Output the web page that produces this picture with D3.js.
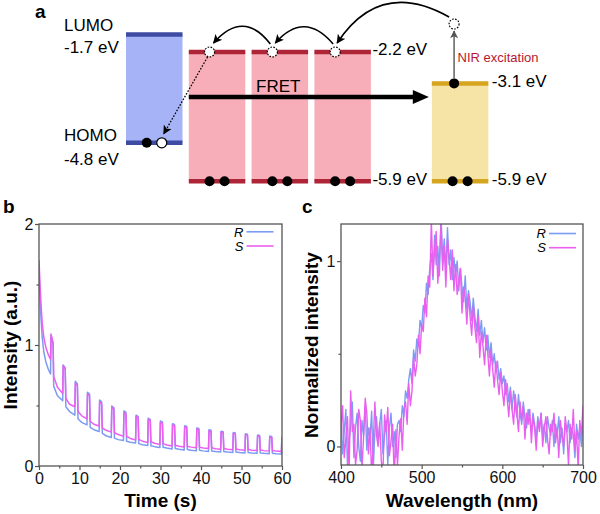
<!DOCTYPE html>
<html>
<head>
<meta charset="utf-8">
<script src="https://cdn.jsdelivr.net/npm/d3@7/dist/d3.min.js"></script>
<style>
  html, body { margin: 0; padding: 0; background: #fff; }
  svg { display: block; font-family: "Liberation Sans", Arial, sans-serif; }
</style>
</head>
<body>
<svg id="fig" width="600" height="514"></svg>
<script>
// ---------- panel a: energy levels (eV) ----------
const levelSlots = [0, 1, 2, 3, 4.87];          // column of each material
const lumoLevels = [-1.7, -2.2, -2.2, -2.2, -3.1];
const homoLevels = [-4.8, -5.9, -5.9, -5.9, -5.9];
const levelKinds = ['donor', 'emitter', 'emitter', 'emitter', 'ucnp'];

// ---------- panel b: intensity vs time ----------
const pulseStart = [2.85, 5.85, 8.85, 11.85, 14.85, 17.85, 20.85, 23.85, 26.85, 29.85,
  32.85, 35.85, 38.85, 41.85, 44.85, 47.85, 50.85, 53.85, 56.85, 59.85];
const sInit = [[0, 1.70], [0.25, 1.50], [0.5, 1.33], [0.8, 1.18], [1.2, 1.06], [1.7, 0.98], [2.3, 0.92]];
const rInit = [[0, 1.64], [0.25, 1.40], [0.5, 1.22], [0.8, 1.06], [1.2, 0.94], [1.7, 0.86], [2.3, 0.80]];
const sBefore = [0.88, 0.60, 0.49, 0.39, 0.33, 0.28, 0.245, 0.215, 0.195, 0.178, 0.166, 0.157, 0.15, 0.144, 0.139, 0.135, 0.131, 0.128, 0.125, 0.12];
const rBefore = [0.76, 0.54, 0.42, 0.34, 0.285, 0.235, 0.21, 0.19, 0.17, 0.152, 0.14, 0.132, 0.125, 0.12, 0.115, 0.111, 0.108, 0.105, 0.102, 0.10];
const sPeak = [1.09, 0.83, 0.685, 0.595, 0.53, 0.485, 0.44, 0.41, 0.385, 0.36, 0.34, 0.322, 0.305, 0.29, 0.28, 0.268, 0.258, 0.248, 0.238, 0.228];
const rPeak = [1.08, 0.835, 0.70, 0.61, 0.545, 0.495, 0.455, 0.42, 0.395, 0.372, 0.35, 0.332, 0.315, 0.30, 0.288, 0.277, 0.267, 0.257, 0.247, 0.237];
const sPeakEnd = [1.02, 0.80, 0.665, 0.58, 0.515, 0.472, 0.43, 0.40, 0.376, 0.352, 0.333, 0.316, 0.30, 0.286, 0.276, 0.265, 0.255, 0.245, 0.235, 0.225];
const rPeakEnd = [1.01, 0.81, 0.68, 0.595, 0.53, 0.483, 0.445, 0.41, 0.386, 0.364, 0.343, 0.326, 0.31, 0.295, 0.284, 0.273, 0.263, 0.253, 0.243, 0.233];
const sAfter = [0.74, 0.56, 0.45, 0.37, 0.315, 0.275, 0.245, 0.22, 0.20, 0.185, 0.172, 0.163, 0.156, 0.15, 0.145, 0.14, 0.136, 0.132, 0.128];
const rAfter = [0.66, 0.49, 0.39, 0.32, 0.27, 0.23, 0.205, 0.185, 0.168, 0.155, 0.145, 0.137, 0.13, 0.124, 0.119, 0.115, 0.111, 0.108, 0.105];
const sMid = [0.65, 0.51, 0.415, 0.345, 0.295, 0.26, 0.228, 0.205, 0.188, 0.174, 0.164, 0.156, 0.149, 0.143, 0.139, 0.135, 0.131, 0.127, 0.123];
const rMid = [0.58, 0.45, 0.36, 0.30, 0.25, 0.218, 0.196, 0.176, 0.16, 0.148, 0.139, 0.131, 0.125, 0.119, 0.115, 0.111, 0.108, 0.105, 0.102];

// ---------- panel c: normalized emission, 400-700 nm every 2 nm ----------
const wavelengths = d3.range(400, 701, 2);
const rSpectrum = [
  0.16, -0.04, 0.08, 0.2, -0.1, 0.02, 0.12, 0.24, -0.06, 0.1, 0.18, 0.0, -0.08, 0.14, 0.06, 0.22, -0.02, 0.1,
  0.04, 0.19, -0.12, 0.08, 0.16, 0.02, 0.12, 0.2, -0.04, 0.06, 0.14, -0.1, 0.1, 0.18, 0.0, 0.08, -0.06, 0.12,
  0.14, 0.08, 0.22, 0.16, 0.3, 0.26, 0.36, 0.42, 0.34, 0.52, 0.46, 0.58, 0.54, 0.68, 0.64, 0.76, 0.72, 0.88, 0.82, 0.96,
  1.04, 0.9, 1.14, 0.98, 1.08, 0.92, 1.25, 1.0, 1.12, 0.94, 1.18, 0.98, 1.06, 0.9, 1.02,
  0.92, 1.0, 0.84, 0.96, 0.86, 0.78, 0.92, 0.74, 0.84, 0.78, 0.68, 0.8, 0.7, 0.62, 0.74,
  0.6, 0.68, 0.56, 0.64, 0.52, 0.6, 0.48, 0.56, 0.44, 0.5, 0.4, 0.46, 0.36, 0.42, 0.34,
  0.38, 0.28, 0.34, 0.24, 0.32, 0.2, 0.3, 0.22, 0.16, 0.28, 0.18, 0.12, 0.24, 0.16, 0.1, 0.2, 0.14, 0.08, 0.18, 0.12,
  0.04, 0.16, 0.1, 0.18, 0.06, 0.12, 0.02, 0.16, 0.1, 0.06, 0.14, 0.0, 0.12, 0.06, 0.16, 0.02, 0.1, -0.04, 0.12, 0.08,
  0.14, 0.02, 0.1, 0.06, -0.06, 0.12, 0.04, 0.1, 0.0, 0.14
];
const sSpectrum = [
  0.1, 0.22, -0.06, 0.04, 0.16, -0.14, 0.3, 0.08, 0.12, -0.1, -0.02, 0.2, 0.14, -0.12, 0.05, 0.26, 0.18, -0.04,
  0.1, -0.16, 0.02, 0.24, 0.06, 0.0, 0.13, -0.08, -0.14, 0.17, 0.08, 0.21, -0.05, 0.03, 0.12, -0.18, 0.09, -0.1,
  0.06, 0.15, -0.02, 0.2, 0.24, 0.12, 0.34, 0.22, 0.3, 0.48, 0.38, 0.44, 0.6, 0.5, 0.66, 0.62, 0.8, 0.7, 0.92, 0.86,
  1.22, 0.92, 1.06, 1.16, 0.88, 1.0, 1.2, 0.95, 1.08, 0.86, 1.12, 1.02, 0.9, 1.06, 0.84,
  0.98, 0.82, 0.9, 0.96, 0.72, 0.86, 0.8, 0.66, 0.82, 0.7, 0.6, 0.76, 0.64, 0.56, 0.7,
  0.48, 0.62, 0.54, 0.44, 0.6, 0.5, 0.38, 0.52, 0.42, 0.32, 0.46, 0.36, 0.28, 0.4, 0.3,
  0.22, 0.36, 0.26, 0.16, 0.3, 0.2, 0.12, 0.28, 0.18, 0.08, 0.24, 0.14, 0.22, 0.04, 0.18, 0.12, 0.2, 0.02, 0.16, 0.1,
  -0.02, 0.14, 0.08, 0.18, 0.0, 0.1, 0.16, 0.04, -0.04, 0.12, 0.08, 0.18, 0.02, 0.1, -0.06, 0.14, 0.06, 0.0, 0.16, 0.08,
  -0.1, 0.12, 0.04, 0.2, -0.02, 0.08, -0.12, 0.14, 0.06, 0.22
];

const seriesNames = ['R', 'S'];
const seriesColors = { R: '#7d9bf3', S: '#ea5ff0' };

const svg = d3.select('#fig');
const defs = svg.append('defs');

function addHead(id, color, w, h) {
    defs.append('marker')
        .attr('id', id)
        .attr('viewBox', '0 0 10 10')
        .attr('refX', 9).attr('refY', 5)
        .attr('markerUnits', 'userSpaceOnUse')
        .attr('markerWidth', w).attr('markerHeight', h)
        .attr('orient', 'auto')
        .append('path')
        .attr('d', 'M0,0 L10,5 L0,10 L2.5,5 Z')
        .attr('fill', color);
}
addHead('headK', '#000', 10, 9);
addHead('headG', '#555', 8, 8);

/* ===================== panel a ===================== */
const kindStyle = {
    donor:   { fill: '#a6b3f6', line: '#3d4ba3' },
    emitter: { fill: '#f8aeb9', line: '#ae2538' },
    ucnp:    { fill: '#f6e4a6', line: '#d6a520' }
};
const eY = d3.scaleLinear().domain([-1.7, -5.9]).range([34.5, 181.2]);
const slotX = d3.scaleLinear().domain([0, 1]).range([126, 188.8]);
const boxW = 56.5;
const levels = levelSlots.map((s, i) => ({
    x: slotX(s), lumo: lumoLevels[i], homo: homoLevels[i], kind: levelKinds[i]
}));

const ga = svg.append('g');
ga.append('text').attr('x', 35).attr('y', 18).attr('font-size', 19).attr('font-weight', 700).text('a');

levels.forEach(d => {
    const st = kindStyle[d.kind];
    ga.append('rect')
        .attr('x', d.x).attr('y', eY(d.lumo))
        .attr('width', boxW).attr('height', eY(d.homo) - eY(d.lumo))
        .attr('fill', st.fill);
    [d.lumo, d.homo].forEach(e => {
        ga.append('line')
            .attr('x1', d.x).attr('x2', d.x + boxW)
            .attr('y1', eY(e)).attr('y2', eY(e))
            .attr('stroke', st.line).attr('stroke-width', 4.5);
    });
});

// level labels
const donor = levels[0];
const lab = (x, y, t, anchor) => ga.append('text').attr('x', x).attr('y', y)
    .attr('font-size', 17).attr('text-anchor', anchor || 'start').text(t);
lab(64, eY(donor.lumo) - 3.5, 'LUMO');
lab(64, eY(donor.lumo) + 18, '-1.7 eV');
lab(64, eY(donor.homo) - 1.3, 'HOMO');
lab(64, eY(donor.homo) + 22, '-4.8 eV');
const em3 = levels[3], uc = levels[4];
lab(em3.x + boxW + 1.5, eY(em3.lumo) + 3.5, '-2.2 eV');
lab(em3.x + boxW + 1.5, eY(em3.homo) + 3.5, '-5.9 eV');
lab(uc.x + boxW + 3.5, eY(uc.lumo) + 3.5, '-3.1 eV');
lab(uc.x + boxW + 3.5, eY(uc.homo) + 3.5, '-5.9 eV');

// FRET arrow
const fretY = 97;
const fretX1 = levels[1].x, fretTip = uc.x - 3;
ga.append('line')
    .attr('x1', fretX1).attr('x2', fretTip - 14)
    .attr('y1', fretY).attr('y2', fretY)
    .attr('stroke', '#000').attr('stroke-width', 4.5);
ga.append('path')
    .attr('d', `M${fretTip - 16},${fretY - 7} L${fretTip},${fretY} L${fretTip - 16},${fretY + 7} Z`)
    .attr('fill', '#000');
lab(256, 91.5, 'FRET');

// electrons
const elecR = 5;
function electron(x, y, kind) {
    const c = ga.append('circle').attr('cx', x).attr('cy', y).attr('r', elecR);
    if (kind === 'full') c.attr('fill', '#000');
    else if (kind === 'hole') c.attr('fill', '#fff').attr('stroke', '#000').attr('stroke-width', 1.2);
    else c.attr('fill', '#fff').attr('stroke', '#000').attr('stroke-width', 1.2).attr('stroke-dasharray', '1.6,1.4');
}
levels.slice(1).forEach(d => {
    const cx = d.x + boxW / 2;
    electron(cx - 7.5, eY(d.homo), 'full');
    electron(cx + 7.5, eY(d.homo), 'full');
});
electron(donor.x + boxW / 2 - 7.5, eY(donor.homo), 'full');
electron(donor.x + boxW / 2 + 7.5, eY(donor.homo), 'hole');

// excited (dashed) electrons on emitter LUMO
const exc = levels.slice(1, 4).map(d => [d.x + boxW / 2 - 7.5, eY(d.lumo)]);
exc.forEach(p => electron(p[0], p[1], 'dash'));

// NIR excitation
const ucx = uc.x + boxW / 2 - 6;
electron(ucx, eY(uc.lumo), 'full');
const nirY = 24;
ga.append('line')
    .attr('x1', ucx).attr('x2', ucx)
    .attr('y1', eY(uc.lumo) - 5).attr('y2', nirY + 7)
    .attr('stroke', '#555').attr('stroke-width', 1.4)
    .attr('marker-end', 'url(#headG)');
electron(ucx, nirY, 'dash');
ga.append('text').attr('x', ucx + 3.5).attr('y', 61.5)
    .attr('font-size', 13).attr('fill', '#b8162e').text('NIR excitation');

// curved hops
function hop(x1, y1, x2, y2, cx, cy) {
    ga.append('path')
        .attr('d', `M${x1},${y1} Q${cx},${cy} ${x2},${y2}`)
        .attr('fill', 'none').attr('stroke', '#000').attr('stroke-width', 1.6)
        .attr('marker-end', 'url(#headK)');
}
hop(ucx - 5, nirY - 7, exc[2][0] + 2, exc[2][1] - 9, 380, -22);
hop(exc[2][0] - 2, exc[2][1] - 8, exc[1][0] + 3, exc[1][1] - 9, exc[2][0] - 31, 10);
hop(exc[1][0] - 2, exc[1][1] - 8, exc[0][0] + 4, exc[0][1] - 9, exc[1][0] - 29, 9);

// dotted back-transfer to donor hole
ga.append('line')
    .attr('x1', exc[0][0] - 2).attr('y1', exc[0][1] + 5)
    .attr('x2', donor.x + boxW / 2 + 9.5).attr('y2', eY(donor.homo) - 9)
    .attr('stroke', '#000').attr('stroke-width', 1.3)
    .attr('stroke-dasharray', '1.6,1.6')
    .attr('marker-end', 'url(#headK)');

/* ===================== shared axis helper ===================== */
function frame(g, x, y, majorX, minorX, majorY, minorY, fmtX) {
    const [x0, x1] = x.range(), [y0, y1] = y.range();
    const styleAxis = sel => {
        sel.select('.domain').remove();
        sel.selectAll('line').attr('stroke', '#555').attr('stroke-width', 1.2);
        sel.selectAll('text').attr('font-size', 16).attr('fill', '#111')
            .attr('font-family', '"Liberation Sans", Arial, sans-serif');
    };
    g.append('g').attr('transform', `translate(0,${y0})`)
        .call(d3.axisBottom(x).tickValues(minorX).tickSize(2.5).tickFormat(''))
        .call(styleAxis);
    g.append('g').attr('transform', `translate(0,${y0})`)
        .call(d3.axisBottom(x).tickValues(majorX).tickSize(4).tickPadding(3).tickFormat(fmtX || d3.format('d')))
        .call(styleAxis);
    g.append('g').attr('transform', `translate(${x0},0)`)
        .call(d3.axisLeft(y).tickValues(minorY).tickSize(2.5).tickFormat(''))
        .call(styleAxis);
    g.append('g').attr('transform', `translate(${x0},0)`)
        .call(d3.axisLeft(y).tickValues(majorY).tickSize(4).tickPadding(1.5).tickFormat(d3.format('d')))
        .call(styleAxis);
    g.append('rect')
        .attr('x', x0).attr('y', y1).attr('width', x1 - x0).attr('height', y0 - y1)
        .attr('fill', 'none').attr('stroke', '#555').attr('stroke-width', 1.3);
}

function legend(g, xText, yFirst, gap) {
    seriesNames.forEach((n, i) => {
        const yy = yFirst + i * gap;
        g.append('text').attr('x', xText).attr('y', yy + 4.7).attr('text-anchor', 'end')
            .attr('font-size', 13).attr('font-style', 'italic').text(n);
        g.append('line').attr('x1', xText + 3).attr('x2', xText + 30)
            .attr('y1', yy).attr('y2', yy)
            .attr('stroke', seriesColors[n]).attr('stroke-width', 1.6);
    });
}

/* ===================== panel b ===================== */
function decayPoints(init, before, peak, peakEnd, after, mid) {
    const pts = init.slice();
    pulseStart.forEach((t0, i) => {
        pts.push([t0, before[i]]);
        pts.push([t0 + 0.12, peak[i]]);
        pts.push([t0 + 0.62, peakEnd[i]]);
        if (i < after.length) {
            pts.push([t0 + 0.78, after[i]]);
            pts.push([t0 + 1.7, mid[i]]);
        }
    });
    return pts;
}
const decay = {
    R: decayPoints(rInit, rBefore, rPeak, rPeakEnd, rAfter, rMid),
    S: decayPoints(sInit, sBefore, sPeak, sPeakEnd, sAfter, sMid)
};

const gb = svg.append('g');
const xb = d3.scaleLinear().domain([0, 60]).range([39, 282]);
const yb = d3.scaleLinear().domain([0, 2]).range([466, 224]);
defs.append('clipPath').attr('id', 'clipB').append('rect')
    .attr('x', 39).attr('y', 224).attr('width', 243).attr('height', 242);
const lineB = d3.line().x(d => xb(d[0])).y(d => yb(d[1]));
seriesNames.forEach(n => {
    gb.append('path').datum(decay[n])
        .attr('clip-path', 'url(#clipB)')
        .attr('d', lineB)
        .attr('fill', 'none').attr('stroke', seriesColors[n])
        .attr('stroke-width', 1.5).attr('stroke-linejoin', 'round');
});
frame(gb, xb, yb, d3.range(0, 61, 10), d3.range(5, 60, 10), [0, 1, 2], [0.5, 1.5]);
legend(gb, 243.5, 231.8, 14.2);
gb.append('text').attr('x', 3).attr('y', 213).attr('font-size', 19).attr('font-weight', 700).text('b');
gb.append('text').attr('x', 160.5).attr('y', 507).attr('text-anchor', 'middle')
    .attr('font-size', 19).attr('font-weight', 700).text('Time (s)');
gb.append('text').attr('transform', 'translate(17,345) rotate(-90)').attr('text-anchor', 'middle')
    .attr('font-size', 19).attr('font-weight', 700).text('Intensity (a.u.)');

/* ===================== panel c ===================== */
const gc = svg.append('g');
const xc = d3.scaleLinear().domain([400, 700]).range([341, 583]);
const yc = d3.scaleLinear().domain([-0.1, 1.2]).range([465, 224]);
defs.append('clipPath').attr('id', 'clipC').append('rect')
    .attr('x', 341).attr('y', 224).attr('width', 242).attr('height', 241);
const spectra = { R: rSpectrum, S: sSpectrum };
const lineC = d3.line().x((d, i) => xc(wavelengths[i])).y(d => yc(d));
seriesNames.forEach(n => {
    gc.append('path').datum(spectra[n])
        .attr('clip-path', 'url(#clipC)')
        .attr('d', lineC)
        .attr('fill', 'none').attr('stroke', seriesColors[n])
        .attr('stroke-width', 1.4).attr('stroke-linejoin', 'round');
});
frame(gc, xc, yc, [400, 500, 600, 700], [450, 550, 650], [0, 1], [0.5]);
legend(gc, 546, 233.5, 14.2);
gc.append('text').attr('x', 302).attr('y', 213).attr('font-size', 19).attr('font-weight', 700).text('c');
gc.append('text').attr('x', 462).attr('y', 507).attr('text-anchor', 'middle')
    .attr('font-size', 19).attr('font-weight', 700).text('Wavelength (nm)');
gc.append('text').attr('transform', 'translate(318,345) rotate(-90)').attr('text-anchor', 'middle')
    .attr('font-size', 19).attr('font-weight', 700).text('Normalized intensity');
</script>
</body>
</html>
